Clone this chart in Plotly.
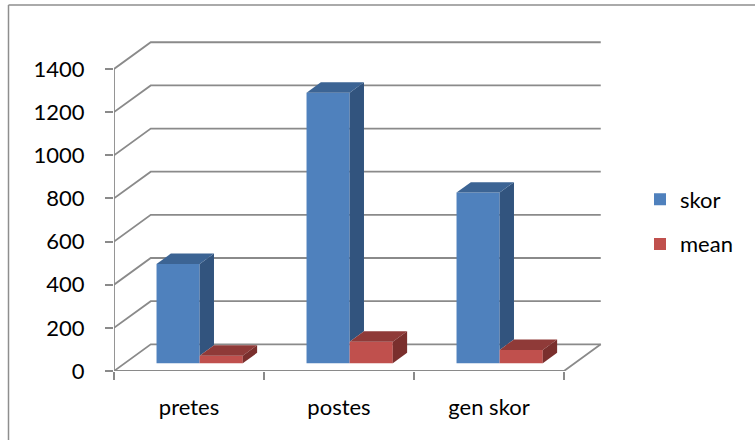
import plotly.graph_objects as go

# ---- data ----
categories = ["pretes", "postes", "gen skor"]
skor = [460, 1254, 791]
mean = [35, 100, 62]
y_ticks = [0, 200, 400, 600, 800, 1000, 1200, 1400]

# ---- look ----
FONT = "Lato"
FS = 22
GRID = "#8a8a8a"
BLUE = ("#4F81BD", "#3C6494", "#32547E")   # front, top, side
RED = ("#C0504D", "#8F3A38", "#7A2F2D")

# ---- pseudo-3D geometry (axis units) ----
W, H = 755, 440
ML, MR, MT, MB = 114, 149, 37, 69
PLOT_W = W - ML - MR
PLOT_H = H - MT - MB
CAT_PX = 150.0
X0 = -0.5
XMAX = X0 + PLOT_W / CAT_PX
YMAX = 1548.0
DX, DY = 0.245, 123.7          # depth of the back wall
F1, F2 = 0.29, 0.68            # front / back depth of the columns
BW = 0.2875                    # column width (category units)


def px_to_paper(px, py):
    return (px - ML) / PLOT_W, (H - MB - py) / PLOT_H


fig = go.Figure()
shapes = []

# walls: gridlines run along the left wall then across the back wall
for v in y_ticks:
    shapes.append(dict(type="path", layer="below",
                       path=f"M{X0},{v} L{X0 + DX},{v + DY} L{len(categories) - 0.5 + DX},{v + DY}",
                       xref="x", yref="y", line=dict(color=GRID, width=1.8)))
# front vertical axis and floor edges
right = len(categories) - 0.5
shapes.append(dict(type="line", layer="below", xref="x", yref="y",
                   x0=X0, x1=X0, y0=0, y1=y_ticks[-1], line=dict(color=GRID, width=1.8)))
shapes.append(dict(type="path", layer="below", xref="x", yref="y",
                   path=f"M{X0},0 L{right},0 L{right + DX},{DY}",
                   line=dict(color=GRID, width=1.8)))

# chart frame (top and left edges)
fx, fy = px_to_paper(8.5, 5)
fx2, _ = px_to_paper(W + 5, 5)
_, fyb = px_to_paper(8.5, H + 5)
shapes.append(dict(type="line", xref="paper", yref="paper", x0=fx, x1=fx2, y0=fy, y1=fy,
                   line=dict(color="#8e8e8e", width=1.5)))
shapes.append(dict(type="line", xref="paper", yref="paper", x0=fx, x1=fx, y0=fy, y1=fyb,
                   line=dict(color="#8e8e8e", width=1.5)))

idx = list(range(len(categories)))

# front faces of the columns
for name, vals, off, cols in [("skor", skor, -BW, BLUE), ("mean", mean, 0.0, RED)]:
    fig.add_trace(go.Bar(
        name=name, x=[i + F1 * DX for i in idx], y=vals,
        base=[F1 * DY] * len(vals), offset=off, width=BW,
        marker=dict(color=cols[0], line=dict(width=0)),
        legendgroup=name, hoverinfo="skip"))


def poly(xs, ys, color):
    fig.add_trace(go.Scatter(x=xs + [xs[0]], y=ys + [ys[0]], mode="lines", fill="toself",
                             fillcolor=color, line=dict(width=0, color=color),
                             showlegend=False, hoverinfo="skip"))


for i in idx:
    # skor column: top and the part of its side not hidden by the mean column
    xl, xr = i - BW, i
    v, vr = skor[i], mean[i]
    poly([xr + F1 * DX, xr + F2 * DX, xr + F2 * DX, xr + F1 * DX],
         [vr + F1 * DY, vr + F2 * DY, v + F2 * DY, v + F1 * DY], BLUE[2])
    poly([xl + F1 * DX, xr + F1 * DX, xr + F2 * DX, xl + F2 * DX],
         [v + F1 * DY, v + F1 * DY, v + F2 * DY, v + F2 * DY], BLUE[1])
    # mean column: top and side
    xl, xr = i, i + BW
    poly([xl + F1 * DX, xr + F1 * DX, xr + F2 * DX, xl + F2 * DX],
         [vr + F1 * DY, vr + F1 * DY, vr + F2 * DY, vr + F2 * DY], RED[1])
    poly([xr + F1 * DX, xr + F2 * DX, xr + F2 * DX, xr + F1 * DX],
         [F1 * DY, F2 * DY, vr + F2 * DY, vr + F1 * DY], RED[2])

lx, ly = px_to_paper(640, 222)

fig.update_layout(
    width=W, height=H,
    margin=dict(l=ML, r=MR, t=MT, b=MB),
    paper_bgcolor="white", plot_bgcolor="white",
    font=dict(family=FONT, size=FS, color="#000000"),
    barmode="overlay", showlegend=True,
    legend=dict(x=lx, y=ly, xanchor="left", yanchor="middle",
                tracegroupgap=13, font=dict(family=FONT, size=FS),
                bgcolor="rgba(0,0,0,0)"),
    shapes=shapes,
    xaxis=dict(range=[X0, XMAX], showgrid=False, zeroline=False, showline=False,
               tickmode="array", tickvals=idx, ticktext=categories, ticks="",
               ticklabelstandoff=21,
               minor=dict(tickmode="array", tickvals=[k - 0.5 for k in range(len(categories) + 1)],
                          ticks="outside", ticklen=8, tickwidth=1.8, tickcolor=GRID),
               fixedrange=True),
    yaxis=dict(range=[0, YMAX], showgrid=False, zeroline=False, showline=False,
               tickmode="array", tickvals=y_ticks, ticks="outside", ticklen=8,
               tickwidth=1.8, tickcolor=GRID, ticklabelstandoff=16, fixedrange=True),
)

fig.write_html("out.html")
